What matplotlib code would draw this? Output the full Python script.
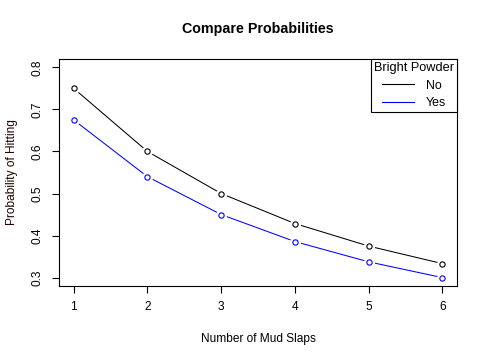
import matplotlib
matplotlib.use("Agg")
import matplotlib.pyplot as plt
from matplotlib.lines import Line2D

# data
mud_slaps = [1, 2, 3, 4, 5, 6]
prob_no = [0.75, 0.6, 0.5, 0.4286, 0.375, 0.3333]
prob_yes = [0.675, 0.54, 0.45, 0.3857, 0.3375, 0.3]
series_names = ["No", "Yes"]
series_colors = ["black", "blue"]

plt.rcParams['font.family'] = ['Liberation Sans', 'DejaVu Sans']

fig = plt.figure(figsize=(4.86, 3.6), dpi=100)
ax = fig.add_axes([0.1214, 0.2056, 0.8189, 0.6305])

for y, col in zip([prob_no, prob_yes], series_colors):
    ax.plot(mud_slaps, y, color=col, lw=0.75, zorder=2)
    # white halo so lines stop short of the points, like R type="b"
    ax.plot(mud_slaps, y, ls='none', marker='o', ms=7, mfc='white', mec='white', zorder=3)
    ax.plot(mud_slaps, y, ls='none', marker='o', ms=3.8, mfc='white', mec=col, mew=0.8, zorder=4)

ax.set_xlim(0.8, 6.2)
ax.set_ylim(0.28, 0.82)
ax.set_xticks(mud_slaps)
ax.set_yticks([0.3, 0.4, 0.5, 0.6, 0.7, 0.8])
ax.set_yticklabels(["0.3", "0.4", "0.5", "0.6", "0.7", "0.8"], rotation=90, va='center')
ax.tick_params(labelsize=8.6, length=5, width=0.8, pad=6)
for s in ax.spines.values():
    s.set_linewidth(0.8)

ax.set_title("Compare Probabilities", fontsize=10.3, fontweight='bold', pad=19)
ax.set_xlabel("Number of Mud Slaps", fontsize=8.6, labelpad=14)
ax.set_ylabel("Probability of Hitting", fontsize=8.6, labelpad=10, color='#200000')

handles = [Line2D([], [], color=c, lw=0.8) for c in series_colors]
leg = ax.legend(handles, series_names, title="Bright Powder", loc='upper right',
                fontsize=8.9, title_fontsize=9.2, fancybox=False, edgecolor='black',
                framealpha=1, borderaxespad=0, handlelength=2.6, handletextpad=1,
                labelspacing=0.45, borderpad=0.25)
leg.get_frame().set_linewidth(0.8)

fig.savefig("out.png", dpi=100)
